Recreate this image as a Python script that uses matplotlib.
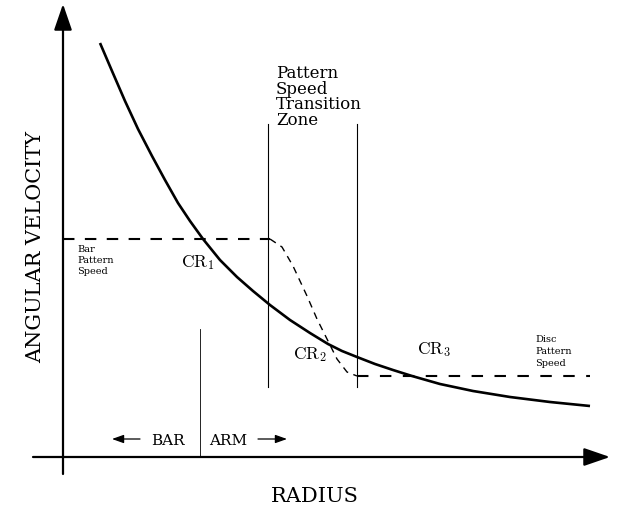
import numpy as np
import matplotlib.pyplot as plt

# rotation curve (radius, angular velocity), schematic units
curve_r = [37, 49, 62, 75, 89, 102, 115, 127, 140, 157, 174, 190, 207,
           227, 247, 265, 279, 294, 312, 330, 349, 377, 410, 447, 487, 527]
curve_w = [414, 386, 356, 328, 301, 277, 254, 236, 218, 197, 180, 166, 152,
           137, 124, 113, 106, 100, 93, 87, 81, 73, 66, 60, 55, 51]

# pattern speed: bar level, transition, disc level
bar_r = [0, 207]
bar_w = [218, 218]
trans_r = [207, 219, 230, 244, 254, 264, 274, 284, 294]
trans_w = [218, 210, 191, 161, 138, 118, 98, 85, 81]
disc_r = [294, 527]
disc_w = [81, 81]

# transition zone edges and bar/arm divide
zone_r = [205, 294]
zone_w = (70, 333)
divide_r = 137
divide_top = 128

# corotation labels
cr_labels = ['$\\mathrm{CR}_1$', '$\\mathrm{CR}_2$', '$\\mathrm{CR}_3$']
cr_pos = [(118, 191), (230, 99), (354, 104)]

plt.rcParams['mathtext.fontset'] = 'cm'
serif = 'DejaVu Serif'

fig = plt.figure(figsize=(6.26, 5.10), dpi=100)
ax = fig.add_axes([0, 0, 1, 1])
ax.set_xlim(-63, 563)
ax.set_ylim(-52, 458)
ax.axis('off')

# axes with arrows
arr = dict(arrowstyle='-|>,head_length=1.6,head_width=0.55', color='k', lw=1.6,
           mutation_scale=10, shrinkA=0, shrinkB=0)
ax.annotate('', xy=(0, 453), xytext=(0, -17), arrowprops=arr)
ax.annotate('', xy=(547, 0), xytext=(-30, 0), arrowprops=arr)

# curves
ax.plot(curve_r, curve_w, color='k', lw=1.9, solid_capstyle='butt',
        solid_joinstyle='round')
ax.plot(bar_r, bar_w, color='k', lw=1.5, dashes=(5.5, 5))
ax.plot(trans_r, trans_w, color='k', lw=1.0, dashes=(5, 4))
ax.plot(disc_r, disc_w, color='k', lw=1.5, dashes=(5.5, 5.5))

for r in zone_r:
    ax.plot([r, r], zone_w, color='k', lw=0.8)
ax.plot([divide_r, divide_r], [0, divide_top], color='k', lw=0.6)

# labels
for txt, (x, y) in zip(cr_labels, cr_pos):
    ax.text(x, y, txt, fontsize=12.5, ha='left', va='baseline')

for i, s in enumerate(['Pattern', 'Speed', 'Transition', 'Zone']):
    ax.text(213, 380 - i * 15.7, s, fontsize=12, family=serif, va='baseline')

for i, s in enumerate(['Bar', 'Pattern', 'Speed']):
    ax.text(14, 206 - i * 11, s, fontsize=7, family=serif, va='baseline')
for i, s in enumerate(['Disc', 'Pattern', 'Speed']):
    ax.text(472, 116 - i * 12, s, fontsize=7, family=serif, va='baseline')

ax.text(105, 17, 'BAR', fontsize=11, family=serif, ha='center', va='center')
ax.text(165, 17, 'ARM', fontsize=11, family=serif, ha='center', va='center')
small = dict(arrowstyle='-|>,head_length=0.7,head_width=0.25', color='k', lw=0.9,
             mutation_scale=10, shrinkA=0, shrinkB=0)
ax.annotate('', xy=(49, 18), xytext=(77, 18), arrowprops=small)
ax.annotate('', xy=(224, 18), xytext=(195, 18), arrowprops=small)

ax.text(-27, 211, 'ANGULAR VELOCITY', fontsize=15, family=serif, rotation=90,
        ha='center', va='center')
ax.text(252, -39, 'RADIUS', fontsize=15, family=serif, ha='center', va='center')

fig.savefig('out.png', dpi=100)
